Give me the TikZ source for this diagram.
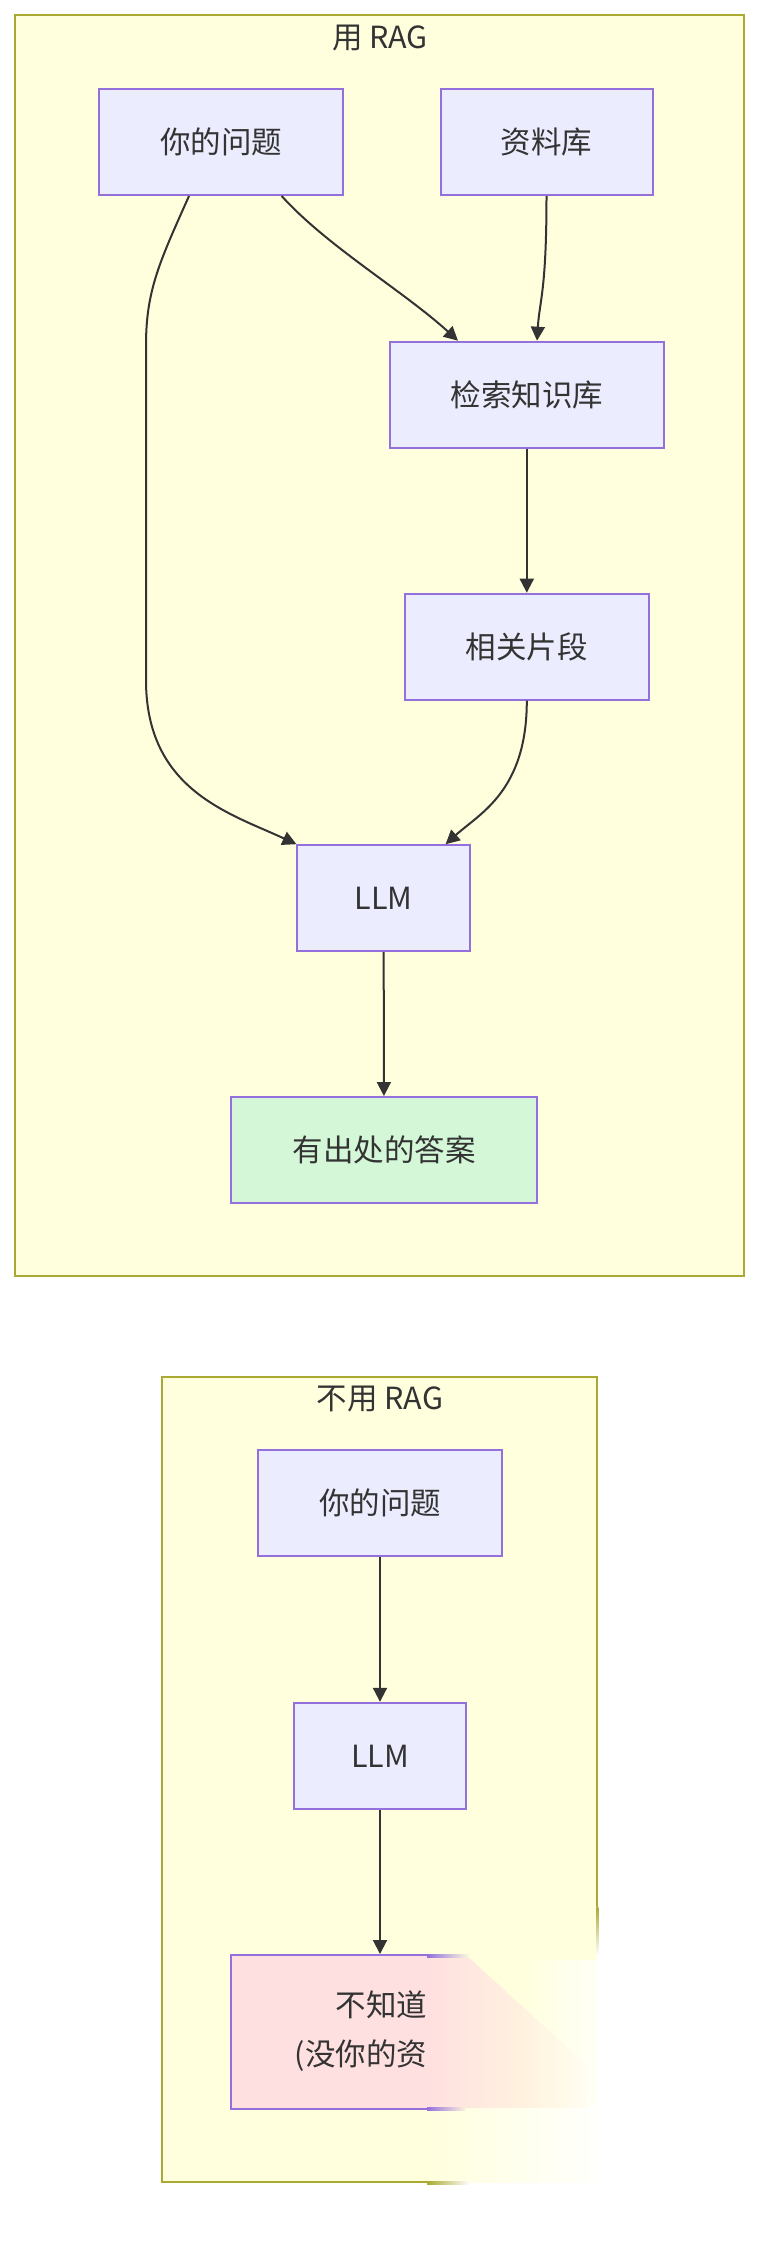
\documentclass[tikz,border=0pt]{standalone}
\usepackage{fontspec}
\setmainfont{Noto Sans CJK SC}
\usetikzlibrary{arrows.meta,fadings}
\definecolor{nodefill}{HTML}{ECECFF}
\definecolor{nodeline}{HTML}{9370DB}
\definecolor{clfill}{HTML}{FFFFDE}
\definecolor{clline}{HTML}{AAAA33}
\definecolor{linecol}{HTML}{333333}
\definecolor{okfill}{HTML}{D4F7D8}
\definecolor{nofill}{HTML}{FFE0E0}
\tikzfading[name=fadetoright, left color=transparent!100, right color=transparent!0]
\tikzfading[name=fadetoleft, left color=transparent!0, right color=transparent!100]
\tikzset{
  box/.style={draw=nodeline, fill=nodefill, line width=2pt, minimum height=106pt,
    inner sep=0pt, font=\fontsize{30.5}{40}\selectfont, text=linecol},
  cluster/.style={draw=clline, fill=clfill, line width=2pt},
  conn/.style={draw=linecol, line width=2pt, -{Triangle[length=14pt,width=14pt]}},
  ttl/.style={font=\fontsize{30.5}{40}\selectfont, text=linecol, inner sep=0pt}
}
\begin{document}
\begin{tikzpicture}[x=1pt,y=-1pt]
\useasboundingbox (0,0) rectangle (776,2244);
\fill[white] (0,0) rectangle (776,2244);

% cluster 1
\draw[cluster] (15.3,15) rectangle (744,1276);
\node[ttl] (t1) at (380,38) {用 RAG};
\node[box, minimum width=243.5pt] (q1) at (221.2,142) {你的问题};
\node[box, minimum width=212pt] (db) at (546.5,142) {资料库};
\node[box, minimum width=274.4pt] (search) at (526.8,394.7) {检索知识库};
\node[box, minimum width=243.5pt] (frag) at (526.8,646.7) {相关片段};
\node[box, minimum width=172.3pt] (llm) at (383.6,898.2) {LLM};
\node[box, fill=okfill, minimum width=306pt] (ans) at (384,1150) {有出处的答案};

\draw[conn] ([xshift=60.5pt]q1.south) .. controls +(45,50) and +(-55,-50) .. ([xshift=-68.8pt]search.north);
\draw[conn] (db.south) .. controls +(0,95) and +(2.5,-40) .. ([xshift=10.2pt]search.north);
\draw[conn] ([xshift=-32.2pt]q1.south) .. controls +(-29,65) and +(0,-55) .. (146,345) -- (146,680)
   .. controls +(0,110) and +(-67,-31) .. (llm.north west);
\draw[conn] (search) -- (frag);
\draw[conn] (frag.south) .. controls +(0,90) and +(34.5,-31) .. ([xshift=62pt]llm.north);
\draw[conn] (llm) -- (ans);

% cluster 2
\draw[cluster] (162.3,1376.7) rectangle (597.3,2182.3);
\node[ttl] (t2) at (380,1399) {不用 RAG};
\node[box, minimum width=244pt] (q2) at (380,1503.3) {你的问题};
\node[box, minimum width=172.3pt] (llm2) at (380,1755.8) {LLM};
\node[box, fill=nofill, minimum width=298.6pt, minimum height=154pt] (no) at (380,2032) {};
\node[ttl, anchor=east, align=right, font=\fontsize{30.5}{48.3}\selectfont] (notxt) at (427.5,2031) {不知道\\(没你的资};
\draw[conn] (q2) -- (llm2);
\draw[conn] (llm2) -- (no);

% smeared lower right part of the picture
\fill[white] (427,1907) rectangle (776,2244);
\fill[clfill] (427,1907) rectangle (597,2183.3);
\fill[white, path fading=fadetoright] (430,2108) rectangle (610,2190);
\fill[white, path fading=fadetoright, fill opacity=0.8] (520,1960) rectangle (600,2110);
\fill[nofill, path fading=fadetoleft] (427,1956) -- (467,1956) -- (590,2068) -- (585,2108) -- (427,2108) -- cycle;
\shade[left color=nodeline, right color=clfill] (427,1954) rectangle (470,1957);
\shade[left color=nodeline, right color=nofill!50!clfill] (427,2107) rectangle (465,2110);
\shade[left color=clline, right color=white] (427,2181) rectangle (470,2184);
\shade[top color=clline, bottom color=white] (596.3,1907) rectangle (598.3,1955);
\end{tikzpicture}
\end{document}
